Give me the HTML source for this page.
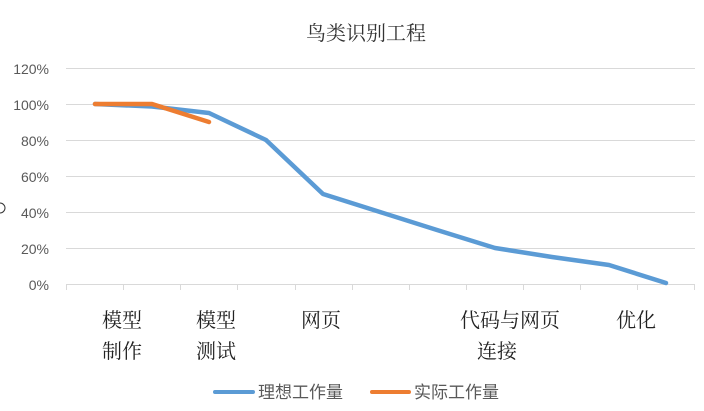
<!DOCTYPE html>
<html><head><meta charset="utf-8"><style>
html,body{margin:0;padding:0;background:#fff;width:704px;height:411px;overflow:hidden}
svg{display:block}
.cj{font-family:"Liberation Sans","Noto Sans CJK SC",sans-serif}
</style></head><body>
<svg width="704" height="411" xmlns="http://www.w3.org/2000/svg">
<circle cx="0" cy="208" r="5" fill="none" stroke="#333" stroke-width="1"/>
<text x="366" y="40" text-anchor="middle" font-size="20" fill="#333" font-family="Noto Serif CJK SC, serif">鸟类识别工程</text>
<g stroke="#d9d9d9" stroke-width="1">
<line x1="66" y1="68.5" x2="695" y2="68.5"/>
<line x1="66" y1="104.5" x2="695" y2="104.5"/>
<line x1="66" y1="140.5" x2="695" y2="140.5"/>
<line x1="66" y1="176.5" x2="695" y2="176.5"/>
<line x1="66" y1="212.5" x2="695" y2="212.5"/>
<line x1="66" y1="248.5" x2="695" y2="248.5"/>
<line x1="66" y1="284.5" x2="695" y2="284.5"/>
<line x1="66.5" y1="284" x2="66.5" y2="290"/>
<line x1="123.5" y1="284" x2="123.5" y2="290"/>
<line x1="180.5" y1="284" x2="180.5" y2="290"/>
<line x1="237.5" y1="284" x2="237.5" y2="290"/>
<line x1="295.5" y1="284" x2="295.5" y2="290"/>
<line x1="352.5" y1="284" x2="352.5" y2="290"/>
<line x1="409.5" y1="284" x2="409.5" y2="290"/>
<line x1="466.5" y1="284" x2="466.5" y2="290"/>
<line x1="523.5" y1="284" x2="523.5" y2="290"/>
<line x1="580.5" y1="284" x2="580.5" y2="290"/>
<line x1="637.5" y1="284" x2="637.5" y2="290"/>
<line x1="694.5" y1="284" x2="694.5" y2="290"/>
</g>
<g font-family="Liberation Sans, sans-serif" font-size="14" fill="#595959" text-anchor="end">
<text x="49" y="74">120%</text>
<text x="49" y="110">100%</text>
<text x="49" y="146">80%</text>
<text x="49" y="182">60%</text>
<text x="49" y="218">40%</text>
<text x="49" y="254">20%</text>
<text x="49" y="290">0%</text>
</g>
<polyline fill="none" stroke="#5b9bd5" stroke-width="4.5" stroke-linejoin="round" stroke-linecap="round"
 points="95,104 152,106.5 209,113 266,140 323,194 380,212 437,230 495,248 552,257 609,265 666,283"/>
<polyline fill="none" stroke="#ed7d31" stroke-width="4.5" stroke-linejoin="round" stroke-linecap="round"
 points="95,104 152,104 209,122"/>
<g font-family="Noto Serif CJK SC, Noto Sans CJK SC, serif" font-size="20" fill="#222" text-anchor="middle">
<text x="122" y="327">模型</text>
<text x="122" y="358">制作</text>
<text x="216" y="327">模型</text>
<text x="216" y="358">测试</text>
<text x="321" y="327">网页</text>
<text x="510" y="327">代码与网页</text>
<text x="497" y="358">连接</text>
<text x="636" y="327">优化</text>
</g>
<line x1="215" y1="392" x2="253" y2="392" stroke="#5b9bd5" stroke-width="4" stroke-linecap="round"/>
<text x="258" y="398" font-size="17" fill="#595959" class="cj">理想工作量</text>
<line x1="372" y1="392" x2="409" y2="392" stroke="#ed7d31" stroke-width="4" stroke-linecap="round"/>
<text x="414" y="398" font-size="17" fill="#595959" class="cj">实际工作量</text>
</svg>
</body></html>
